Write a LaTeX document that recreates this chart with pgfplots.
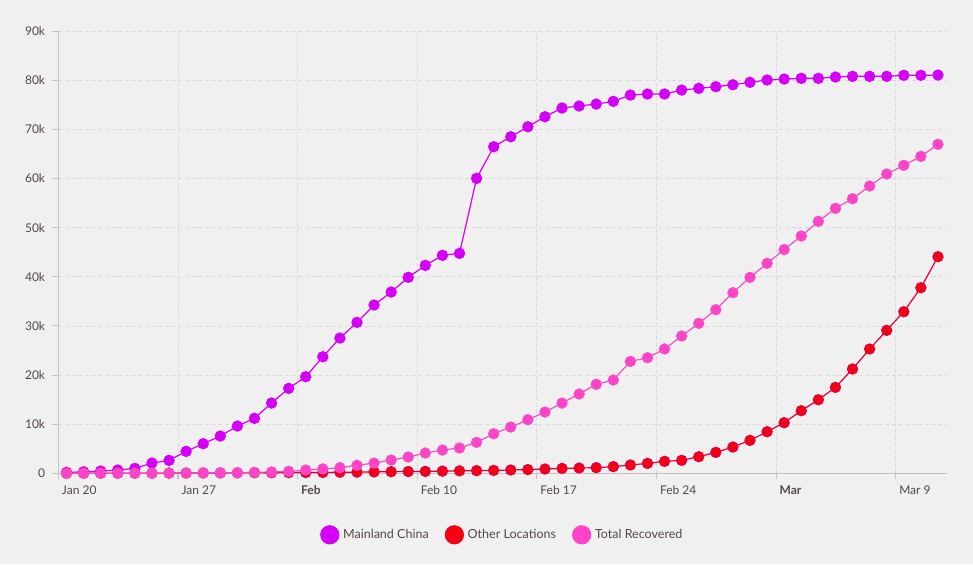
\documentclass[border=0pt]{standalone}
\usepackage{fontspec}
\setmainfont{Lato}
\usepackage{pgfplots}
\pgfplotsset{compat=1.18}
\usepackage{pgfplotstable}
\definecolor{bg}{RGB}{240,240,240}
\definecolor{mc}{RGB}{212,0,247}
\definecolor{ol}{RGB}{245,0,18}
\definecolor{olline}{RGB}{225,0,60}
\definecolor{tr}{RGB}{255,66,200}
\definecolor{trline}{RGB}{240,80,200}
\definecolor{txt}{RGB}{85,72,72}
\definecolor{gridc}{RGB}{218,218,218}
\definecolor{axc}{RGB}{195,195,195}

\pgfplotstableread{
d mc ol tr
0 200 4 0
1 300 6 0
2 470 7 28
3 670 10 30
4 1010 21 36
5 2090 35 39
6 2640 46 49
7 4470 57 58
8 6030 71 101
9 7590 81 120
10 9620 99 135
11 11190 121 214
12 14300 131 275
13 17290 151 400
14 19660 160 670
15 23730 180 900
16 27530 220 1150
17 30720 250 1630
18 34250 290 2090
19 36900 330 2710
20 39880 370 3320
21 42320 400 4130
22 44360 450 4740
23 44770 500 5150
24 60030 550 6310
25 66460 600 8060
26 68500 680 9420
27 70530 760 10910
28 72570 880 12470
29 74340 1000 14300
30 74750 1080 16140
31 75150 1150 18110
32 75700 1360 18990
33 76980 1700 22780
34 77190 2030 23530
35 77190 2440 25300
36 78000 2640 27940
37 78340 3380 30520
38 78680 4270 33300
39 79080 5350 36760
40 79570 6710 39880
41 80040 8470 42730
42 80240 10300 45540
43 80380 12740 48290
44 80380 14980 51280
45 80650 17500 53930
46 80790 21230 55880
47 80790 25300 58470
48 80790 29100 60910
49 81000 32890 62680
50 81000 37770 64510
51 81050 44080 66950
}\data

\begin{document}
\begin{tikzpicture}[x=1pt,y=1pt]
\fill[bg] (-43.8,-68.0) rectangle (685.95,355.0);
\useasboundingbox (-43.8,-68.0) rectangle (685.95,355.0);
\begin{axis}[
  at={(0,0)}, anchor=south west,
  scale only axis, width=666.4pt, height=331.7pt,
  xmin=0, xmax=52, ymin=0, ymax=90000,
  clip=false,
  scaled y ticks=false,
  axis x line=bottom, axis y line=left,
  axis line style={draw=axc, line width=0.9pt, -},
  tick align=outside,
  major tick length=4.5pt,
  tick style={draw=axc, line width=0.8pt},
  xtick={0,7,14,21,28,35,42,49},
  xticklabels={Jan 20, Jan 27, \textbf{Feb}, Feb 10, Feb 17, Feb 24, \textbf{Mar}, Mar 9},
  ytick={0,10000,20000,30000,40000,50000,60000,70000,80000,90000},
  yticklabels={0,10k,20k,30k,40k,50k,60k,70k,80k,90k},
  grid=major,
  major grid style={draw=gridc, dash pattern=on 3pt off 2pt, line width=0.6pt},
  xticklabel style={font=\fontsize{9}{11}\selectfont, text=txt, anchor=north west, inner sep=0pt, xshift=2.5pt, yshift=-4.5pt},
  yticklabel style={font=\fontsize{9}{11}\selectfont, text=txt, anchor=east, inner sep=0pt, xshift=-5.3pt},
  legend style={at={(0.5,-0.139)}, anchor=center, draw=none, fill=none,
    font=\fontsize{9.4}{11}\selectfont, text=txt,
    /tikz/every odd column/.append style={column sep=0.8pt},
    /tikz/every even column/.append style={column sep=10pt}},
  legend columns=3,
  legend cell align=left,
]
\addplot[color=mc, line width=0.9pt, mark=*, mark size=3.8pt, mark options={solid, fill=mc, draw=none},
  legend image code/.code={\fill[mc] (0pt,0pt) circle (6.75pt);}]
  table[x expr=\thisrow{d}+0.475, y=mc]{\data};
\addlegendentry{Mainland China}
\addplot[color=olline, line width=0.9pt, mark=*, mark size=3.8pt, mark options={solid, fill=ol, draw=none},
  legend image code/.code={\fill[ol] (0pt,0pt) circle (6.75pt);}]
  table[x expr=\thisrow{d}+0.475, y=ol]{\data};
\addlegendentry{Other Locations}
\addplot[color=trline, line width=0.9pt, mark=*, mark size=3.8pt, mark options={solid, fill=tr, draw=none},
  legend image code/.code={\fill[tr] (0pt,0pt) circle (6.75pt);}]
  table[x expr=\thisrow{d}+0.475, y=tr]{\data};
\addlegendentry{Total Recovered}
\end{axis}
\end{tikzpicture}
\end{document}
